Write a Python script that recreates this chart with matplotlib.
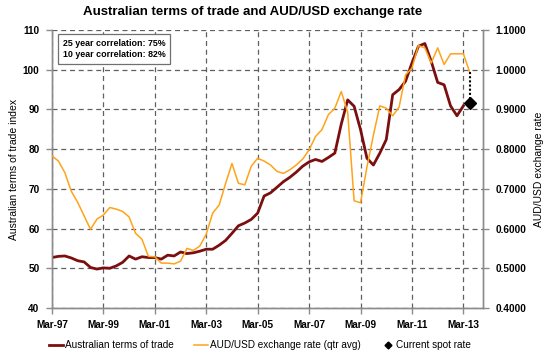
import matplotlib
matplotlib.use("Agg")
import matplotlib.pyplot as plt
from matplotlib.lines import Line2D
from matplotlib.ticker import FormatStrFormatter, MultipleLocator

plt.rcParams['font.family'] = ['Liberation Sans', 'DejaVu Sans']

# ---- data (quarterly, Mar-97 = index 0) ----
tick_labels = ["Mar-97", "Mar-99", "Mar-01", "Mar-03", "Mar-05",
               "Mar-07", "Mar-09", "Mar-11", "Mar-13"]
n_quarters = 68  # Mar-97 .. Dec-13

terms_of_trade = [52.7, 53.0, 53.1, 52.6, 51.9, 51.6, 50.2, 49.8, 50.1, 50.0,
                  50.6, 51.5, 53.1, 52.3, 52.9, 52.7, 52.7, 52.3, 53.3, 53.1,
                  54.1, 53.7, 53.9, 54.3, 54.8, 54.8, 55.8, 57.0, 58.8, 60.7,
                  61.4, 62.3, 63.9, 68.2, 69.0, 70.4, 71.8, 72.9, 74.2, 75.7,
                  76.8, 77.4, 76.9, 77.9, 79.0, 86.3, 92.4, 90.8, 84.9, 77.7,
                  76.0, 79.0, 82.4, 93.7, 95.0, 97.1, 101.7, 105.9, 106.6, 102.1,
                  96.8, 96.2, 90.9, 88.4, 90.9]

aud_usd = [0.783, 0.770, 0.741, 0.694, 0.666, 0.632, 0.598, 0.624, 0.634, 0.653,
           0.649, 0.643, 0.629, 0.588, 0.573, 0.530, 0.529, 0.513, 0.513, 0.511,
           0.518, 0.550, 0.545, 0.556, 0.586, 0.639, 0.659, 0.713, 0.764, 0.714,
           0.710, 0.757, 0.777, 0.770, 0.760, 0.744, 0.739, 0.748, 0.760, 0.775,
           0.798, 0.832, 0.849, 0.887, 0.903, 0.945, 0.893, 0.670, 0.665, 0.755,
           0.835, 0.909, 0.903, 0.884, 0.906, 0.987, 1.004, 1.061, 1.055, 1.017,
           1.055, 1.013, 1.040, 1.040, 1.040, 0.993]

spot_rate = 0.915
spot_index = 65

# ---- figure ----
fig = plt.figure(figsize=(5.5, 3.58), dpi=100)
ax = fig.add_axes([0.0945, 0.1397, 0.7831, 0.7765])
ax2 = ax.twinx()

maroon = '#7b0f0f'
orange = '#ffa319'
grid_c = '#606060'

x_tot = list(range(len(terms_of_trade)))
x_aud = list(range(len(aud_usd)))

ax.plot(x_tot, terms_of_trade, color=maroon, lw=2.0, solid_joinstyle='round', zorder=3)
ax2.plot(x_aud, aud_usd, color=orange, lw=1.1, zorder=3)
ax2.plot([spot_index, spot_index], [aud_usd[-1], spot_rate], color='black',
         lw=1.5, ls=(0, (1, 1)), zorder=4)
ax2.plot([spot_index], [spot_rate], marker='D', color='black', markersize=6, zorder=5)

ax.set_xlim(0, n_quarters - 1)
ax.set_ylim(40, 110)
ax2.set_ylim(0.4, 1.1)
ax.yaxis.set_major_locator(MultipleLocator(10))
ax2.yaxis.set_major_locator(MultipleLocator(0.1))
ax2.yaxis.set_major_formatter(FormatStrFormatter('%.4f'))

ax.set_xticks(list(range(0, n_quarters, 8)))
ax.set_xticklabels(tick_labels)

for a in (ax, ax2):
    for s in a.spines.values():
        s.set_color('#8c8c8c')
        s.set_linewidth(1.0)
    a.spines['top'].set_visible(False)

ax.grid(True, color=grid_c, ls=(0, (4, 3)), lw=0.9)
ax.set_axisbelow(True)

ax.tick_params(axis='x', direction='out', length=4, width=1, color='#8c8c8c', pad=5,
               labelsize=7.2)
ax.tick_params(axis='y', direction='out', length=4, width=1, color='#8c8c8c', pad=5,
               labelsize=7.2)
ax2.tick_params(axis='y', direction='out', length=4, width=1, color='#8c8c8c', pad=5,
                labelsize=7.2)
for lab in ax.get_xticklabels() + ax.get_yticklabels() + ax2.get_yticklabels():
    lab.set_fontweight('bold')

ax.set_ylabel('Australian terms of trade index', fontsize=7.5, labelpad=3)
ax2.set_ylabel('AUD/USD exchange rate', fontsize=7.5, labelpad=6)

fig.text(0.46, 0.966, 'Australian terms of trade and AUD/USD exchange rate',
         ha='center', va='center', fontsize=9.5, fontweight='bold')

ax.text(0.025, 0.967, '25 year correlation: 75%\n10 year correlation: 82%',
        transform=ax.transAxes, ha='left', va='top', fontsize=6.4,
        fontweight='bold', linespacing=1.25, zorder=6,
        bbox=dict(boxstyle='square,pad=0.55', fc='white', ec='#707070', lw=0.9))

handles = [Line2D([], [], color=maroon, lw=2.0),
           Line2D([], [], color=orange, lw=1.1),
           Line2D([], [], color='black', marker='D', ls='none', markersize=3.5)]
labels = ['Australian terms of trade', 'AUD/USD exchange rate (qtr avg)',
          'Current spot rate']
fig.legend(handles, labels, loc='center', bbox_to_anchor=(0.473, 0.036), ncol=3,
           frameon=False, fontsize=7.2, handlelength=1.45, handletextpad=0.15,
           columnspacing=2.0)

fig.savefig('out.png', dpi=100)
